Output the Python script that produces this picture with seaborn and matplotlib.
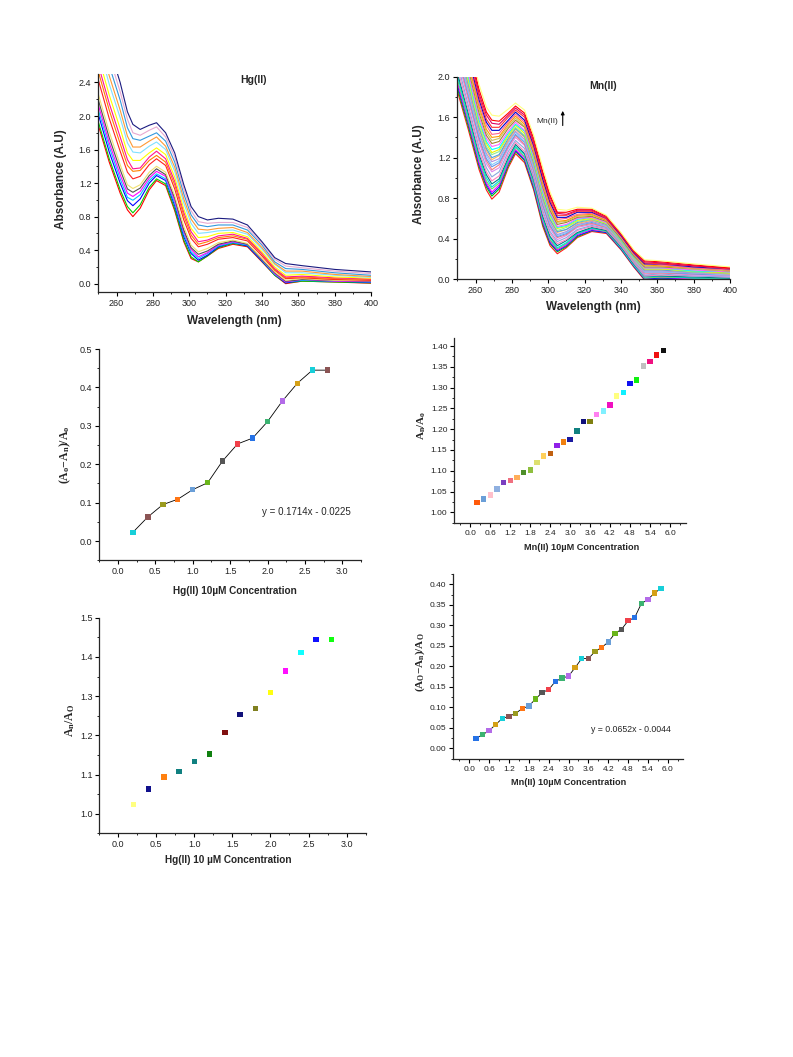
import numpy as np
import pandas as pd
import matplotlib
matplotlib.use("Agg")
import matplotlib.pyplot as plt
from matplotlib.ticker import MultipleLocator, FormatStrFormatter
import seaborn as sns

# ---------------- DATA: Hg(II) titration spectra ----------------
hg_nm = [250, 256, 262, 266, 269, 273, 278, 282, 287, 292, 297, 301, 305,
         310, 316, 324, 332, 340, 347, 353, 362, 380, 400]
# one row per wavelength, curves from lowest to highest
hg_abs = [
    [1.89, 1.93, 2.02, 2.07, 2.13, 2.19, 2.26, 2.43, 2.53, 2.61, 2.71, 2.85, 2.95, 3.07, 3.19, 3.30],
    [1.45, 1.49, 1.57, 1.63, 1.68, 1.74, 1.81, 1.97, 2.07, 2.15, 2.25, 2.38, 2.48, 2.60, 2.71, 2.82],
    [1.08, 1.12, 1.20, 1.25, 1.30, 1.36, 1.42, 1.58, 1.67, 1.75, 1.85, 1.98, 2.07, 2.19, 2.29, 2.40],
    [0.88, 0.92, 0.99, 1.03, 1.08, 1.13, 1.18, 1.33, 1.41, 1.48, 1.56, 1.68, 1.76, 1.86, 1.96, 2.05],
    [0.80, 0.845, 0.93, 0.995, 1.04, 1.09, 1.135, 1.25, 1.34, 1.37, 1.47, 1.57, 1.63, 1.73, 1.80, 1.90],
    [0.90, 0.94, 1.01, 1.06, 1.10, 1.14, 1.18, 1.28, 1.35, 1.38, 1.47, 1.56, 1.63, 1.71, 1.77, 1.84],
    [1.12, 1.15, 1.20, 1.23, 1.26, 1.29, 1.33, 1.42, 1.47, 1.51, 1.56, 1.64, 1.70, 1.76, 1.83, 1.89],
    [1.23, 1.25, 1.29, 1.31, 1.34, 1.37, 1.40, 1.49, 1.53, 1.58, 1.62, 1.69, 1.75, 1.80, 1.87, 1.92],
    [1.17, 1.19, 1.23, 1.25, 1.28, 1.30, 1.33, 1.41, 1.45, 1.49, 1.54, 1.60, 1.64, 1.70, 1.75, 1.80],
    [0.87, 0.89, 0.93, 0.96, 0.99, 1.02, 1.05, 1.13, 1.18, 1.22, 1.27, 1.34, 1.39, 1.45, 1.51, 1.56],
    [0.50, 0.52, 0.56, 0.59, 0.62, 0.64, 0.68, 0.76, 0.81, 0.85, 0.89, 0.96, 1.01, 1.07, 1.13, 1.18],
    [0.30, 0.32, 0.36, 0.38, 0.41, 0.43, 0.46, 0.54, 0.58, 0.62, 0.66, 0.72, 0.77, 0.82, 0.87, 0.92],
    [0.26, 0.26, 0.28, 0.30, 0.32, 0.35, 0.38, 0.44, 0.47, 0.50, 0.55, 0.60, 0.65, 0.70, 0.74, 0.80],
    [0.33, 0.33, 0.34, 0.36, 0.37, 0.39, 0.42, 0.47, 0.50, 0.52, 0.56, 0.61, 0.64, 0.68, 0.72, 0.76],
    [0.42, 0.43, 0.44, 0.45, 0.46, 0.47, 0.49, 0.53, 0.55, 0.57, 0.60, 0.63, 0.66, 0.70, 0.73, 0.78],
    [0.47, 0.48, 0.49, 0.49, 0.50, 0.51, 0.52, 0.55, 0.57, 0.59, 0.61, 0.64, 0.67, 0.70, 0.73, 0.77],
    [0.44, 0.45, 0.45, 0.46, 0.47, 0.47, 0.48, 0.51, 0.53, 0.54, 0.56, 0.59, 0.61, 0.64, 0.67, 0.70],
    [0.26, 0.27, 0.27, 0.28, 0.29, 0.29, 0.30, 0.33, 0.35, 0.36, 0.38, 0.41, 0.43, 0.46, 0.48, 0.50],
    [0.10, 0.10, 0.11, 0.11, 0.12, 0.13, 0.14, 0.16, 0.17, 0.18, 0.20, 0.23, 0.24, 0.26, 0.29, 0.31],
    [0.00, 0.01, 0.01, 0.02, 0.02, 0.03, 0.04, 0.06, 0.07, 0.08, 0.10, 0.13, 0.15, 0.18, 0.21, 0.24],
    [0.03, 0.03, 0.04, 0.04, 0.05, 0.05, 0.06, 0.07, 0.08, 0.09, 0.11, 0.13, 0.15, 0.17, 0.19, 0.215],
    [0.02, 0.02, 0.03, 0.03, 0.03, 0.04, 0.04, 0.05, 0.06, 0.07, 0.08, 0.10, 0.11, 0.13, 0.15, 0.17],
    [0.005, 0.01, 0.015, 0.02, 0.025, 0.03, 0.035, 0.04, 0.05, 0.055, 0.065, 0.075, 0.085, 0.10, 0.12, 0.14],
]
hg_line_colors = ["#ff0000", "#00d000", "#0000ff", "#00c8ff", "#ff00ff", "#505050",
                  "#f0e070", "#ff2020", "#ff8000", "#ff1493", "#ffff00", "#80e0ff",
                  "#ff9933", "#3399dd", "#e8a8d0", "#1a1a80"]

# ---------------- DATA: Mn(II) titration spectra ----------------
mn_nm = hg_nm
mn_abs = [
    [1.86, 1.89, 1.92, 1.95, 1.98, 2.01, 2.04, 2.09, 2.14, 2.19, 2.23, 2.26, 2.29, 2.32, 2.35, 2.38, 2.41, 2.44, 2.47, 2.51, 2.55, 2.59, 2.62, 2.66, 2.71, 2.75, 2.79, 2.84, 2.90],
    [1.48, 1.51, 1.54, 1.56, 1.58, 1.61, 1.64, 1.68, 1.72, 1.77, 1.80, 1.83, 1.85, 1.88, 1.91, 1.93, 1.95, 1.98, 2.01, 2.04, 2.08, 2.11, 2.14, 2.18, 2.21, 2.25, 2.29, 2.32, 2.38],
    [1.08, 1.11, 1.13, 1.15, 1.18, 1.20, 1.23, 1.26, 1.30, 1.35, 1.38, 1.40, 1.43, 1.45, 1.48, 1.50, 1.52, 1.55, 1.57, 1.60, 1.64, 1.67, 1.70, 1.73, 1.77, 1.80, 1.83, 1.87, 1.92],
    [0.88, 0.91, 0.93, 0.95, 0.97, 1.00, 1.03, 1.06, 1.10, 1.14, 1.17, 1.19, 1.22, 1.24, 1.27, 1.29, 1.31, 1.34, 1.36, 1.39, 1.42, 1.45, 1.48, 1.52, 1.55, 1.58, 1.62, 1.65, 1.70],
    [0.79, 0.82, 0.84, 0.86, 0.89, 0.91, 0.94, 0.97, 1.01, 1.06, 1.08, 1.11, 1.13, 1.16, 1.18, 1.20, 1.23, 1.25, 1.28, 1.31, 1.34, 1.37, 1.40, 1.43, 1.47, 1.50, 1.54, 1.57, 1.62],
    [0.86, 0.89, 0.91, 0.93, 0.95, 0.97, 0.99, 1.02, 1.06, 1.10, 1.13, 1.15, 1.17, 1.19, 1.22, 1.23, 1.26, 1.28, 1.30, 1.33, 1.36, 1.39, 1.41, 1.44, 1.47, 1.50, 1.53, 1.56, 1.61],
    [1.10, 1.12, 1.14, 1.15, 1.17, 1.18, 1.20, 1.23, 1.26, 1.29, 1.31, 1.32, 1.34, 1.36, 1.37, 1.39, 1.41, 1.42, 1.44, 1.46, 1.49, 1.51, 1.53, 1.55, 1.57, 1.60, 1.62, 1.64, 1.68],
    [1.24, 1.26, 1.27, 1.28, 1.30, 1.31, 1.33, 1.35, 1.37, 1.40, 1.42, 1.43, 1.45, 1.46, 1.48, 1.49, 1.50, 1.52, 1.53, 1.55, 1.57, 1.59, 1.61, 1.63, 1.65, 1.67, 1.69, 1.71, 1.74],
    [1.15, 1.17, 1.18, 1.20, 1.21, 1.23, 1.24, 1.26, 1.29, 1.32, 1.33, 1.35, 1.36, 1.38, 1.40, 1.41, 1.42, 1.44, 1.46, 1.47, 1.50, 1.51, 1.53, 1.55, 1.57, 1.60, 1.62, 1.64, 1.67],
    [0.88, 0.90, 0.91, 0.93, 0.94, 0.96, 0.98, 1.00, 1.02, 1.05, 1.07, 1.09, 1.10, 1.12, 1.14, 1.15, 1.17, 1.18, 1.20, 1.22, 1.24, 1.26, 1.28, 1.30, 1.32, 1.34, 1.36, 1.39, 1.42],
    [0.52, 0.54, 0.56, 0.57, 0.59, 0.60, 0.62, 0.65, 0.68, 0.71, 0.73, 0.74, 0.76, 0.78, 0.79, 0.81, 0.83, 0.84, 0.86, 0.88, 0.91, 0.93, 0.95, 0.97, 0.99, 1.02, 1.04, 1.06, 1.10],
    [0.33, 0.35, 0.36, 0.38, 0.39, 0.41, 0.42, 0.45, 0.47, 0.50, 0.52, 0.53, 0.55, 0.56, 0.58, 0.59, 0.61, 0.63, 0.64, 0.66, 0.68, 0.70, 0.72, 0.74, 0.76, 0.78, 0.81, 0.83, 0.86],
    [0.25, 0.27, 0.28, 0.29, 0.30, 0.31, 0.33, 0.35, 0.37, 0.39, 0.41, 0.42, 0.43, 0.44, 0.46, 0.47, 0.48, 0.50, 0.51, 0.52, 0.54, 0.56, 0.57, 0.59, 0.61, 0.63, 0.65, 0.66, 0.69],
    [0.31, 0.32, 0.33, 0.34, 0.35, 0.36, 0.38, 0.39, 0.41, 0.43, 0.44, 0.45, 0.46, 0.47, 0.49, 0.49, 0.51, 0.52, 0.53, 0.54, 0.56, 0.57, 0.58, 0.60, 0.61, 0.63, 0.64, 0.66, 0.68],
    [0.41, 0.42, 0.43, 0.44, 0.45, 0.45, 0.46, 0.48, 0.49, 0.51, 0.52, 0.53, 0.53, 0.54, 0.55, 0.56, 0.57, 0.58, 0.59, 0.60, 0.61, 0.62, 0.63, 0.64, 0.66, 0.67, 0.68, 0.69, 0.71],
    [0.47, 0.48, 0.48, 0.49, 0.50, 0.50, 0.51, 0.52, 0.53, 0.54, 0.55, 0.56, 0.57, 0.57, 0.58, 0.59, 0.59, 0.60, 0.61, 0.61, 0.62, 0.63, 0.64, 0.65, 0.66, 0.67, 0.68, 0.69, 0.70],
    [0.45, 0.46, 0.46, 0.47, 0.47, 0.48, 0.48, 0.49, 0.50, 0.51, 0.51, 0.52, 0.52, 0.53, 0.54, 0.54, 0.55, 0.55, 0.56, 0.56, 0.57, 0.58, 0.58, 0.59, 0.60, 0.60, 0.61, 0.62, 0.63],
    [0.29, 0.30, 0.30, 0.31, 0.31, 0.31, 0.32, 0.33, 0.34, 0.35, 0.35, 0.36, 0.36, 0.37, 0.37, 0.38, 0.38, 0.39, 0.39, 0.40, 0.40, 0.41, 0.42, 0.42, 0.43, 0.44, 0.44, 0.45, 0.46],
    [0.12, 0.13, 0.13, 0.14, 0.14, 0.14, 0.15, 0.16, 0.17, 0.18, 0.18, 0.19, 0.19, 0.20, 0.20, 0.21, 0.21, 0.22, 0.22, 0.23, 0.23, 0.24, 0.25, 0.25, 0.26, 0.27, 0.27, 0.28, 0.29],
    [-0.01, 0.00, 0.00, 0.01, 0.01, 0.02, 0.03, 0.03, 0.04, 0.05, 0.06, 0.07, 0.07, 0.08, 0.09, 0.09, 0.10, 0.10, 0.11, 0.11, 0.12, 0.13, 0.14, 0.15, 0.15, 0.16, 0.17, 0.18, 0.19],
    [0.00, 0.01, 0.01, 0.02, 0.02, 0.03, 0.03, 0.04, 0.05, 0.06, 0.06, 0.07, 0.07, 0.08, 0.09, 0.09, 0.10, 0.10, 0.11, 0.11, 0.12, 0.13, 0.13, 0.14, 0.15, 0.15, 0.16, 0.17, 0.18],
    [-0.01, 0.00, 0.00, 0.00, 0.01, 0.01, 0.02, 0.03, 0.03, 0.04, 0.05, 0.05, 0.06, 0.06, 0.07, 0.07, 0.07, 0.08, 0.08, 0.09, 0.10, 0.10, 0.11, 0.11, 0.12, 0.13, 0.13, 0.14, 0.15],
    [-0.01, -0.01, 0.00, 0.00, 0.00, 0.01, 0.01, 0.02, 0.02, 0.03, 0.04, 0.04, 0.04, 0.05, 0.05, 0.06, 0.06, 0.06, 0.07, 0.07, 0.08, 0.08, 0.09, 0.09, 0.10, 0.10, 0.11, 0.11, 0.12],
]
mn_line_colors = ["#ff1a1a", "#00c000", "#1a1aff", "#ff00ff", "#66dd66", "#00e0e0",
                  "#008080", "#ff80c0", "#88aadd", "#dd88ee", "#f08080", "#6495ed",
                  "#87cefa", "#b090e0", "#ffb060", "#4aa0e0", "#90ee90", "#f0f000",
                  "#00ffff", "#ff60ff", "#a08030", "#c8c060", "#ff9900", "#ff6090",
                  "#0000cc", "#ff3030", "#e00060", "#ff0000", "#ffff80"]

# ---------------- DATA: ratio plots ----------------
hg_conc = [0.2, 0.4, 0.6, 0.8, 1.0, 1.2, 1.4, 1.6, 1.8, 2.0, 2.2, 2.4, 2.6, 2.8]
hg_quench = [0.023, 0.063, 0.095, 0.109, 0.134, 0.152, 0.209, 0.253, 0.268,
             0.311, 0.365, 0.411, 0.445, 0.445]
hg_ratio = [1.023, 1.063, 1.094, 1.108, 1.133, 1.152, 1.208, 1.253, 1.268,
            1.310, 1.364, 1.411, 1.445, 1.445]

mn_conc = [0.2, 0.4, 0.6, 0.8, 1.0, 1.2, 1.4, 1.6, 1.8, 2.0, 2.2, 2.4, 2.6, 2.8, 3.0,
           3.2, 3.4, 3.6, 3.8, 4.0, 4.2, 4.4, 4.6, 4.8, 5.0, 5.2, 5.4, 5.6, 5.8]
mn_ratio = [1.023, 1.032, 1.042, 1.056, 1.072, 1.076, 1.084, 1.096, 1.102, 1.120,
            1.135, 1.142, 1.161, 1.169, 1.175, 1.196, 1.218, 1.218, 1.235, 1.244,
            1.258, 1.280, 1.288, 1.310, 1.318, 1.352, 1.363, 1.378, 1.389]
mn_quench = [0.024, 0.033, 0.043, 0.058, 0.073, 0.078, 0.085, 0.097, 0.103, 0.120,
             0.136, 0.143, 0.163, 0.171, 0.176, 0.197, 0.219, 0.219, 0.236, 0.246,
             0.259, 0.280, 0.290, 0.311, 0.319, 0.353, 0.363, 0.379, 0.390]

hg_eq = "y = 0.1714x - 0.0225"
mn_eq = "y = 0.0652x - 0.0044"

# ---------------- COLOURS for markers ----------------
BL, GN, VI, GD, CY, BR = "#2672e6", "#3cb371", "#b36be8", "#d4a017", "#17cfd9", "#8b5454"
OL, OR, ST, YG, GY, RD = "#9a9a1e", "#ff7514", "#6a9fd8", "#6ab51a", "#555555", "#f0404a"
hg_quench_colors = [CY, BR, OL, OR, ST, YG, GY, RD, BL, GN, VI, GD, CY, BR]
mn_quench_colors = [BL, GN, VI, GD, CY, BR, OL, OR, ST, YG, GY, RD,
                    BL, GN, VI, GD, CY, BR, OL, OR, ST, YG, GY, RD,
                    BL, GN, VI, GD, CY]
hg_ratio_colors = ["#ffff80", "#10108c", "#ff8010", "#108080", "#108080", "#108010",
                   "#801010", "#10107a", "#808020", "#ffff10", "#ff10ff", "#10ffff",
                   "#1010ff", "#10ff10"]
mn_ratio_colors = ["#ff5a0a", "#6a9fd8", "#ffc0cb", "#8fb0e0", "#7b3fc0", "#f07080",
                   "#ffae5a", "#4f8f2a", "#8fbf3f", "#dde070", "#ffd05a", "#c06010",
                   "#9020e8", "#f08010", "#1a1aa0", "#108080", "#10107a", "#7f7f10",
                   "#ff80f0", "#80f0ff", "#f010c0", "#ffff80", "#10f0ff", "#1010f0",
                   "#10f010", "#c0c0c0", "#f01080", "#f01010", "#101010"]

# ---------------- STYLE ----------------
sns.set_theme(style="ticks")
plt.rcParams["font.family"] = ["Liberation Sans", "DejaVu Sans"]
plt.rcParams["mathtext.fontset"] = "custom"
plt.rcParams["mathtext.rm"] = "Liberation Serif"
plt.rcParams["mathtext.it"] = "Liberation Serif:italic"
plt.rcParams["mathtext.bf"] = "Liberation Serif:bold"
plt.rcParams["axes.linewidth"] = 0.9


def spectra_frame(nm, rows):
    recs = []
    for w, row in zip(nm, rows):
        for k, a in enumerate(row):
            recs.append((w, a, f"c{k:02d}"))
    return pd.DataFrame(recs, columns=["nm", "A", "curve"])


def style_axes(ax, xmaj, xmin, ymaj, ymin, xfmt, yfmt, fs=6.5):
    sns.despine(ax=ax)
    ax.xaxis.set_major_locator(MultipleLocator(xmaj))
    ax.xaxis.set_minor_locator(MultipleLocator(xmin))
    ax.yaxis.set_major_locator(MultipleLocator(ymaj))
    ax.yaxis.set_minor_locator(MultipleLocator(ymin))
    ax.xaxis.set_major_formatter(FormatStrFormatter(xfmt))
    ax.yaxis.set_major_formatter(FormatStrFormatter(yfmt))
    ax.tick_params(which="major", length=3, width=0.8, labelsize=fs, pad=2,
                   colors="black", labelcolor="#222222")
    ax.tick_params(which="minor", length=1.6, width=0.6, colors="black")


def draw_spectra(ax, nm, rows, colors):
    df = spectra_frame(nm, rows)
    order = [f"c{k:02d}" for k in range(len(rows[0]))]
    sns.lineplot(data=df, x="nm", y="A", hue="curve", hue_order=order,
                 palette=colors, estimator=None, lw=0.8, legend=False, ax=ax)
    ax.set_xlim(250, 400)
    style_axes(ax, 20, 10, 0.4, 0.2, "%d", "%.1f")
    ax.set_xlabel("Wavelength (nm)", fontsize=8.5, fontweight="bold")
    ax.set_ylabel("Absorbance (A.U)", fontsize=8.5, fontweight="bold")


def draw_points(ax, conc, vals, colors, line=False):
    labels = [f"p{k:02d}" for k in range(len(conc))]
    if line:
        sns.lineplot(x=conc, y=vals, color="black", lw=0.6, ax=ax, zorder=2)
    sns.scatterplot(x=conc, y=vals, hue=labels, hue_order=labels, palette=colors,
                    marker="s", s=15, linewidth=0, legend=False, ax=ax, zorder=3)


fig = plt.figure(figsize=(7.93, 10.57), dpi=100)

# ---------------- Hg(II) spectra ----------------
ax1 = fig.add_axes([0.124, 0.7237, 0.344, 0.2062])
draw_spectra(ax1, hg_nm, hg_abs, hg_line_colors)
ax1.set_ylim(-0.1, 2.5)
ax1.text(0.567, 0.972, "Hg(II)", transform=ax1.transAxes, fontsize=7.5,
         fontweight="bold", ha="center", va="center")
ax1.xaxis.set_label_coords(0.5, -0.105)
ax1.yaxis.set_label_coords(-0.115, 0.52)

# ---------------- Mn(II) spectra ----------------
ax2 = fig.add_axes([0.5767, 0.7360, 0.3439, 0.1914])
draw_spectra(ax2, mn_nm, mn_abs, mn_line_colors)
ax2.set_ylim(0, 2.0)
ax2.text(0.534, 0.954, "Mn(II)", transform=ax2.transAxes, fontsize=7.5,
         fontweight="bold", ha="center", va="center")
ax2.text(0.331, 0.778, "Mn(II)", transform=ax2.transAxes, fontsize=6,
         ha="center", va="center")
ax2.annotate("", xy=(0.3865, 0.845), xytext=(0.3865, 0.745),
             xycoords="axes fraction",
             arrowprops=dict(arrowstyle="-|>", color="black", lw=0.8,
                             mutation_scale=5))
ax2.xaxis.set_label_coords(0.5, -0.107)
ax2.yaxis.set_label_coords(-0.118, 0.52)

# ---------------- Hg(II) (Ao-An)/Ao ----------------
ax3 = fig.add_axes([0.1252, 0.4699, 0.330, 0.1999])
draw_points(ax3, hg_conc, hg_quench, hg_quench_colors, line=True)
ax3.set_xlim(-0.25, 3.25)
ax3.set_ylim(-0.05, 0.5)
style_axes(ax3, 0.5, 0.25, 0.1, 0.05, "%.1f", "%.1f")
ax3.text(1.92, 0.076, hg_eq, fontsize=7, ha="left", va="center")
ax3.set_xlabel("Hg(II) 10\u00b5M Concentration", fontsize=7.2, fontweight="bold")
ax3.set_ylabel(r"$\mathbf{(A_o{-}A_n)/A_o}$", fontsize=8.5)
ax3.xaxis.set_label_coords(0.52, -0.122)
ax3.yaxis.set_label_coords(-0.099, 0.5)

# ---------------- Mn(II) An/Ao ----------------
ax4 = fig.add_axes([0.5729, 0.5055, 0.2922, 0.175])
draw_points(ax4, mn_conc, mn_ratio, mn_ratio_colors)
ax4.set_xlim(-0.48, 6.48)
ax4.set_ylim(0.975, 1.42)
style_axes(ax4, 0.6, 0.3, 0.05, 0.025, "%.1f", "%.2f", fs=6)
ax4.set_xlabel("Mn(II) 10\u00b5M Concentration", fontsize=6.6, fontweight="bold")
ax4.set_ylabel(r"$\mathbf{A_n/A_o}$", fontsize=8)
ax4.xaxis.set_label_coords(0.55, -0.11)
ax4.yaxis.set_label_coords(-0.114, 0.528)

# ---------------- Hg(II) An/Ao ----------------
ax5 = fig.add_axes([0.1252, 0.2116, 0.3358, 0.2040])
draw_points(ax5, hg_conc, hg_ratio, hg_ratio_colors)
ax5.set_xlim(-0.25, 3.25)
ax5.set_ylim(0.95, 1.5)
style_axes(ax5, 0.5, 0.25, 0.1, 0.05, "%.1f", "%.1f")
ax5.set_xlabel("Hg(II) 10 \u00b5M Concentration", fontsize=7.2, fontweight="bold")
ax5.set_ylabel(r"$\mathbf{A_n/A_O}$", fontsize=8.5)
ax5.xaxis.set_label_coords(0.485, -0.10)
ax5.yaxis.set_label_coords(-0.085, 0.522)

# ---------------- Mn(II) (Ao-An)/Ao ----------------
ax6 = fig.add_axes([0.5709, 0.2816, 0.2900, 0.1753])
draw_points(ax6, mn_conc, mn_quench, mn_quench_colors, line=True)
ax6.set_xlim(-0.5, 6.45)
ax6.set_ylim(-0.027, 0.425)
style_axes(ax6, 0.6, 0.3, 0.05, 0.025, "%.1f", "%.2f", fs=6)
ax6.text(3.67, 0.047, mn_eq, fontsize=6.3, ha="left", va="center")
ax6.set_xlabel("Mn(II) 10\u00b5M Concentration", fontsize=6.6, fontweight="bold")
ax6.set_ylabel(r"$\mathbf{(A_O{-}A_n)/A_O}$", fontsize=8)
ax6.xaxis.set_label_coords(0.503, -0.10)
ax6.yaxis.set_label_coords(-0.112, 0.523)

fig.savefig("out.png", dpi=100)
